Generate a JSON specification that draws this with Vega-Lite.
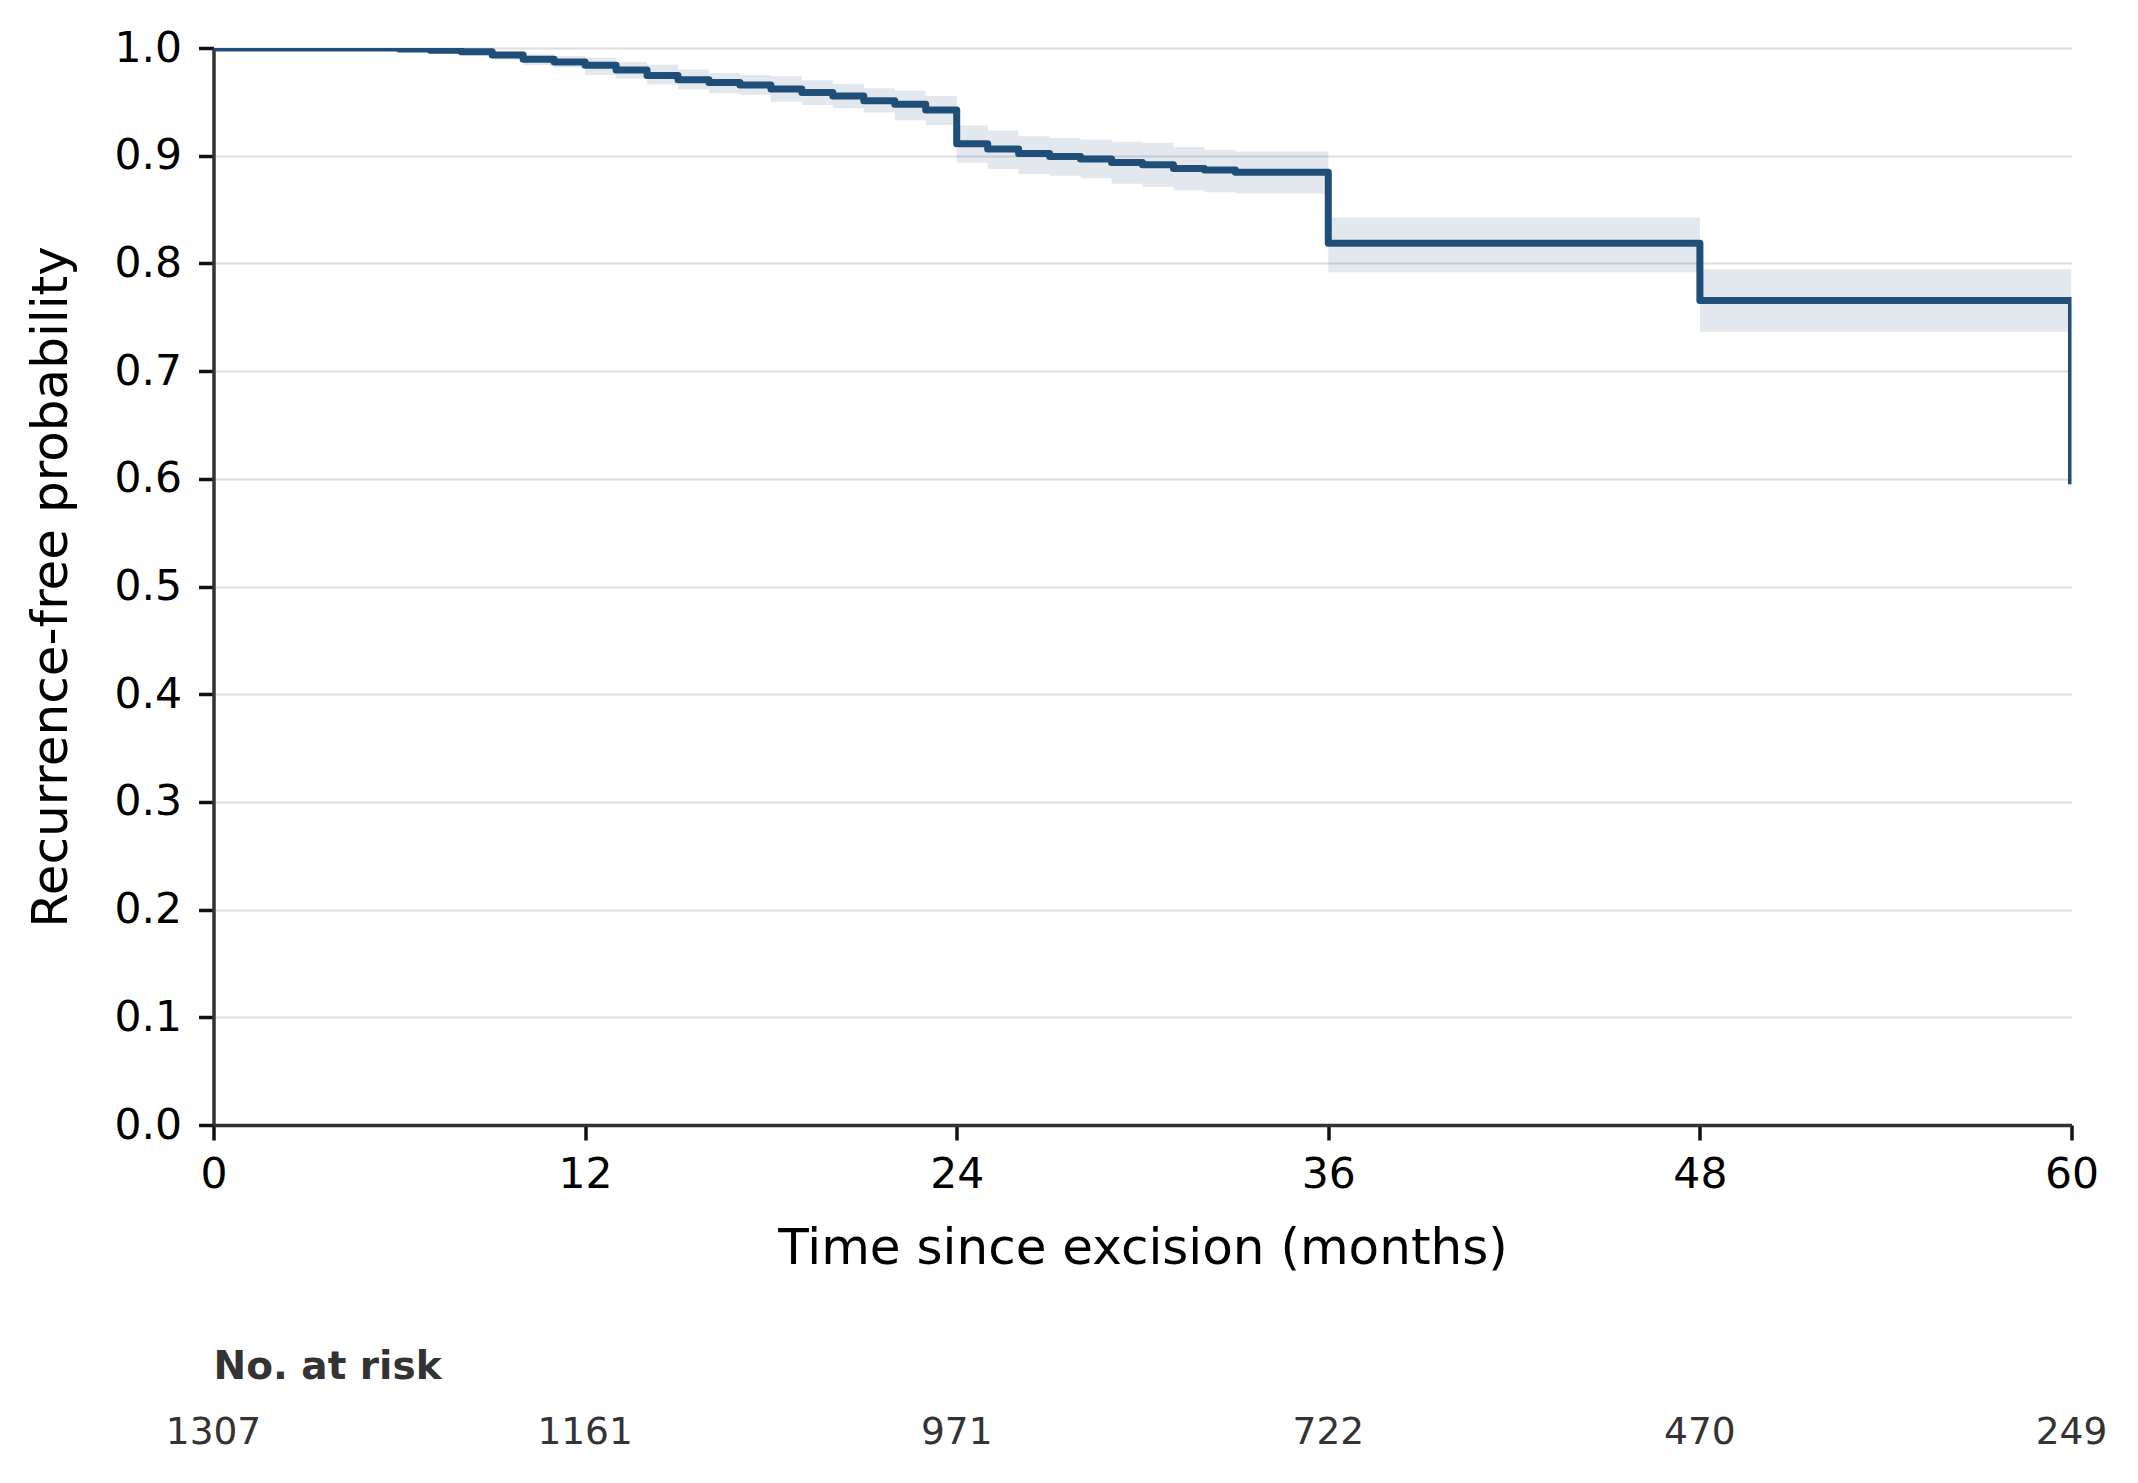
{
  "$schema": "https://vega.github.io/schema/vega-lite/v6.json",
  "background": "white",
  "padding": {"left": 25.5, "top": 27, "right": 0, "bottom": 0},
  "config": {"view": {"stroke": null}, "font": "DejaVu Sans"},
  "spacing": 277.5,
  "bounds": "flush",
  "datasets": {
    "km": [
      {"t": 0, "s": 1.0, "lo": 1.0, "hi": 1.0},
      {"t": 6, "s": 0.999, "lo": 0.997, "hi": 1.0},
      {"t": 7, "s": 0.998, "lo": 0.995, "hi": 1.0},
      {"t": 8, "s": 0.9966, "lo": 0.993, "hi": 0.9995},
      {"t": 9, "s": 0.9935, "lo": 0.989, "hi": 0.997},
      {"t": 10, "s": 0.9895, "lo": 0.984, "hi": 0.994},
      {"t": 11, "s": 0.987, "lo": 0.982, "hi": 0.9926},
      {"t": 12, "s": 0.984, "lo": 0.975, "hi": 0.991},
      {"t": 13, "s": 0.9796, "lo": 0.9716, "hi": 0.987},
      {"t": 14, "s": 0.9744, "lo": 0.966, "hi": 0.9845},
      {"t": 15, "s": 0.9706, "lo": 0.9614, "hi": 0.98},
      {"t": 16, "s": 0.968, "lo": 0.958, "hi": 0.9768},
      {"t": 17, "s": 0.9656, "lo": 0.9567, "hi": 0.975},
      {"t": 18, "s": 0.962, "lo": 0.95, "hi": 0.9737},
      {"t": 19, "s": 0.9587, "lo": 0.947, "hi": 0.97},
      {"t": 20, "s": 0.9555, "lo": 0.944, "hi": 0.9666},
      {"t": 21, "s": 0.951, "lo": 0.94, "hi": 0.9627},
      {"t": 22, "s": 0.9477, "lo": 0.933, "hi": 0.9605},
      {"t": 23, "s": 0.9425, "lo": 0.9286, "hi": 0.9555},
      {"t": 24, "s": 0.911, "lo": 0.8935, "hi": 0.928},
      {"t": 25, "s": 0.9063, "lo": 0.8877, "hi": 0.9233},
      {"t": 26, "s": 0.902, "lo": 0.883, "hi": 0.918},
      {"t": 27, "s": 0.8992, "lo": 0.8813, "hi": 0.9165},
      {"t": 28, "s": 0.897, "lo": 0.879, "hi": 0.915},
      {"t": 29, "s": 0.8936, "lo": 0.874, "hi": 0.913},
      {"t": 30, "s": 0.8915, "lo": 0.871, "hi": 0.912},
      {"t": 31, "s": 0.888, "lo": 0.868, "hi": 0.908},
      {"t": 32, "s": 0.8868, "lo": 0.866, "hi": 0.9055},
      {"t": 33, "s": 0.8846, "lo": 0.865, "hi": 0.904},
      {"t": 36, "s": 0.8186, "lo": 0.7917, "hi": 0.8427},
      {"t": 48, "s": 0.7656, "lo": 0.7365, "hi": 0.7946},
      {"t": 60, "s": 0.595, "lo": 0.7365, "hi": 0.7946}
    ],
    "risk": [
      {"t": 0, "n": "1307"},
      {"t": 12, "n": "1161"},
      {"t": 24, "n": "971"},
      {"t": 36, "n": "722"},
      {"t": 48, "n": "470"},
      {"t": 60, "n": "249"}
    ]
  },
  "vconcat": [
    {
      "width": 1858,
      "height": 1077,
      "data": {"name": "km"},
      "layer": [
        {
          "mark": {"type": "area", "interpolate": "step-after", "color": "#1f4e79", "opacity": 0.13, "clip": true},
          "encoding": {
            "x": {
              "field": "t", "type": "quantitative",
              "scale": {"domain": [0, 60], "nice": false, "zero": false},
              "axis": {
                "title": "Time since excision (months)",
                "values": [0, 12, 24, 36, 48, 60],
                "grid": false,
                "labelFlush": false,
                "labelOverlap": false,
                "domainColor": "#333", "domainWidth": 3.5,
                "tickColor": "#111", "tickWidth": 3.5, "tickSize": 15,
                "labelFontSize": 42.5, "labelColor": "#000", "labelPadding": 13,
                "labelFont": "DejaVu Sans",
                "titleFont": "DejaVu Sans", "titleFontSize": 50, "titleFontWeight": "normal",
                "titleColor": "#000", "titlePadding": 28
              }
            },
            "y": {
              "field": "lo", "type": "quantitative",
              "scale": {"domain": [0, 1], "nice": false},
              "axis": {
                "title": "Recurrence-free probability",
                "values": [0, 0.1, 0.2, 0.3, 0.4, 0.5, 0.6, 0.7, 0.8, 0.9, 1.0],
                "format": ".1f",
                "grid": true, "gridColor": "#dedede", "gridWidth": 2,
                "labelOverlap": false,
                "domainColor": "#333", "domainWidth": 3.5,
                "tickColor": "#111", "tickWidth": 3.5, "tickSize": 15,
                "labelFontSize": 42.5, "labelColor": "#000", "labelPadding": 17,
                "labelFont": "DejaVu Sans",
                "titleFont": "DejaVu Sans", "titleFontSize": 50, "titleFontWeight": "normal",
                "titleColor": "#000", "titlePadding": 37.6
              }
            },
            "y2": {"field": "hi"}
          }
        },
        {
          "mark": {"type": "line", "interpolate": "step-after", "color": "#1f4e79", "strokeWidth": 7, "clip": true, "strokeJoin": "round"},
          "encoding": {
            "x": {"field": "t", "type": "quantitative"},
            "y": {"field": "s", "type": "quantitative", "title": "Recurrence-free probability"}
          }
        }
      ]
    },
    {
      "width": 1858,
      "height": 60,
      "data": {"name": "risk"},
      "title": {"text": "No. at risk", "anchor": "start", "frame": "group", "fontSize": 39, "fontWeight": "bold", "color": "#333", "font": "DejaVu Sans", "offset": -3.5, "baseline": "middle"},
      "mark": {"type": "text", "fontSize": 37.5, "color": "#333", "font": "DejaVu Sans", "baseline": "middle", "align": "center"},
      "encoding": {
        "x": {"field": "t", "type": "quantitative", "scale": {"domain": [0, 60], "nice": false, "zero": false}, "axis": null},
        "text": {"field": "n", "type": "nominal"}
      }
    }
  ]
}
